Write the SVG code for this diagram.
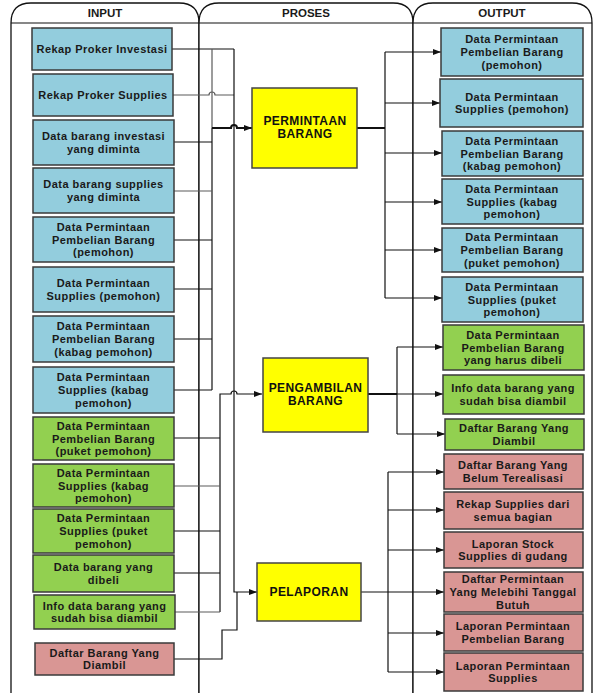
<svg xmlns="http://www.w3.org/2000/svg" width="599" height="693" viewBox="0 0 599 693">
<style>
.lane{fill:#fff;stroke:#111;stroke-width:1.3}
.hdr{fill:none;stroke:#111;stroke-width:1.2}
.ht{font-family:"Liberation Sans",Arial,sans-serif;font-weight:bold;font-size:11.5px;fill:#1a1a1a;text-anchor:middle}
.t{font-family:"Liberation Sans",Arial,sans-serif;font-weight:bold;font-size:11px;letter-spacing:0.45px;fill:#1a1a1a;text-anchor:middle}
.pt{font-family:"Liberation Sans",Arial,sans-serif;font-weight:bold;font-size:12px;letter-spacing:0.4px;fill:#111;text-anchor:middle}
.blue{fill:#93CDDD;stroke:#3a3a3a;stroke-width:1.5}
.green{fill:#92D050;stroke:#3a3a3a;stroke-width:1.5}
.pink{fill:#D99694;stroke:#3a3a3a;stroke-width:1.5}
.yel{fill:#FFFF00;stroke:#444;stroke-width:1.5}
.c{fill:none;stroke:#111;stroke-width:1.2}
.g{fill:none;stroke:#5a5a5a;stroke-width:1.2}
.b{fill:none;stroke:#111;stroke-width:2}
.a{fill:none;stroke:#111;stroke-width:1.2;marker-end:url(#ah)}
</style>
<defs>
<marker id="ah" markerWidth="8" markerHeight="6" refX="8" refY="3" orient="auto" markerUnits="userSpaceOnUse">
<path d="M0,0 L8,3 L0,6 Z" fill="#111"/>
</marker>
</defs>
<g id="lanes">
<g id="lane-input">
<path class="lane" d="M11,695 V23 Q11,3 31,3 H179 Q199,3 199,23 V695 Z"/>
<path class="hdr" d="M11,23 H199"/>
<text class="ht" x="105" y="17">INPUT</text>
</g>
<g id="lane-proses">
<path class="lane" d="M199,695 V23 Q199,3 219,3 H393 Q413,3 413,23 V695 Z"/>
<path class="hdr" d="M199,23 H413"/>
<text class="ht" x="306" y="17">PROSES</text>
</g>
<g id="lane-output">
<path class="lane" d="M413,695 V23 Q413,3 433,3 H572 Q592,3 592,23 V695 Z"/>
<path class="hdr" d="M413,23 H592"/>
<text class="ht" x="502" y="17">OUTPUT</text>
</g>
</g>
<g id="connectors">
<path class="c" d="M172,49 H234"/>
<path class="g" d="M212,49 V128"/>
<path class="c" d="M212,128 V390"/>
<path class="g" d="M173,95 H209 a3,3 0 0 1 6,0 H234"/>
<path class="c" d="M174,142 H212"/>
<path class="g" d="M174,191 H212"/>
<path class="c" d="M174,240 H212"/>
<path class="c" d="M174,289 H212"/>
<path class="c" d="M174,339 H212"/>
<path class="c" d="M174,390 H212"/>
<path class="b" d="M212,128 H231 a3,3 0 0 1 6,0 H244"/>
<path class="a" d="M243,128 H252" style="stroke-width:2"/>
<path class="c" d="M220,612 V394 H231 a3,3 0 0 1 6,0 H262" style="marker-end:url(#ah)"/>
<path class="c" d="M174,438 H220"/>
<path class="g" d="M174,486 H220"/>
<path class="c" d="M174,531 H220"/>
<path class="c" d="M174,573 H220"/>
<path class="g" d="M175,612 H220"/>
<path class="c" d="M234,49 V592 H257" style="marker-end:url(#ah)"/>
<path class="c" d="M174,659 H222 V630 H237 V592"/>
<path class="b" d="M357,128 H385"/>
<path class="c" d="M385,52 V298"/>
<path class="a" d="M385,52 H441"/>
<path class="a" d="M385,103 H440"/>
<path class="a" d="M385,153 H442"/>
<path class="a" d="M385,202 H442"/>
<path class="a" d="M385,250 H442"/>
<path class="a" d="M385,298 H442"/>
<path class="b" d="M368,394 H397"/>
<path class="c" d="M397,347 V434"/>
<path class="a" d="M397,347 H443"/>
<path class="a" d="M397,394 H443"/>
<path class="a" d="M397,434 H445"/>
<path class="a" d="M361,592 H444"/>
<path class="c" d="M388,472 V672"/>
<path class="a" d="M388,472 H444"/>
<path class="a" d="M388,510 H444"/>
<path class="a" d="M388,550 H444"/>
<path class="a" d="M388,633 H444"/>
<path class="a" d="M388,672 H444"/>
</g>
<g id="in1"><rect class="blue" x="32" y="28" width="140" height="42"/><text class="t" x="102" y="53">Rekap Proker Investasi</text></g>
<g id="in2"><rect class="blue" x="33" y="74" width="140" height="42"/><text class="t" x="103" y="99">Rekap Proker Supplies</text></g>
<g id="in3"><rect class="blue" x="33" y="120" width="141" height="45"/><text class="t" x="103.5" y="140.2">Data barang investasi</text><text class="t" x="103.5" y="152.8">yang diminta</text></g>
<g id="in4"><rect class="blue" x="33" y="168" width="141" height="45"/><text class="t" x="103.5" y="188.2">Data barang supplies</text><text class="t" x="103.5" y="200.8">yang diminta</text></g>
<g id="in5"><rect class="blue" x="33" y="217" width="141" height="45"/><text class="t" x="103.5" y="230.9">Data Permintaan</text><text class="t" x="103.5" y="243.5">Pembelian Barang</text><text class="t" x="103.5" y="256.1">(pemohon)</text></g>
<g id="in6"><rect class="blue" x="33" y="267" width="141" height="45"/><text class="t" x="103.5" y="287.2">Data Permintaan</text><text class="t" x="103.5" y="299.8">Supplies (pemohon)</text></g>
<g id="in7"><rect class="blue" x="33" y="316" width="141" height="46"/><text class="t" x="103.5" y="330.4">Data Permintaan</text><text class="t" x="103.5" y="343">Pembelian Barang</text><text class="t" x="103.5" y="355.6">(kabag pemohon)</text></g>
<g id="in8"><rect class="blue" x="33" y="367" width="141" height="46"/><text class="t" x="103.5" y="381.4">Data Permintaan</text><text class="t" x="103.5" y="394">Supplies (kabag</text><text class="t" x="103.5" y="406.6">pemohon)</text></g>
<g id="in9"><rect class="green" x="33" y="417" width="141" height="43"/><text class="t" x="103.5" y="429.9">Data Permintaan</text><text class="t" x="103.5" y="442.5">Pembelian Barang</text><text class="t" x="103.5" y="455.1">(puket pemohon)</text></g>
<g id="in10"><rect class="green" x="33" y="464" width="141" height="43"/><text class="t" x="103.5" y="476.9">Data Permintaan</text><text class="t" x="103.5" y="489.5">Supplies (kabag</text><text class="t" x="103.5" y="502.1">pemohon)</text></g>
<g id="in11"><rect class="green" x="33" y="509" width="141" height="44"/><text class="t" x="103.5" y="522.4">Data Permintaan</text><text class="t" x="103.5" y="535">Supplies (puket</text><text class="t" x="103.5" y="547.6">pemohon)</text></g>
<g id="in12"><rect class="green" x="33" y="555" width="141" height="37"/><text class="t" x="103.5" y="571.2">Data barang yang</text><text class="t" x="103.5" y="583.8">dibeli</text></g>
<g id="in13"><rect class="green" x="34" y="595" width="141" height="34"/><text class="t" x="104.5" y="609.7">Info data barang yang</text><text class="t" x="104.5" y="622.3">sudah bisa diambil</text></g>
<g id="in14"><rect class="pink" x="35" y="643" width="139" height="32"/><text class="t" x="104.5" y="656.7">Daftar Barang Yang</text><text class="t" x="104.5" y="669.3">Diambil</text></g>
<g id="p1"><rect class="yel" x="252" y="88" width="105" height="80"/><text class="pt" x="305" y="124.5">PERMINTAAN</text><text class="pt" x="305" y="138">BARANG</text></g>
<g id="p2"><rect class="yel" x="263" y="358" width="105" height="74"/><text class="pt" x="315.5" y="391.5">PENGAMBILAN</text><text class="pt" x="315.5" y="405">BARANG</text></g>
<g id="p3"><rect class="yel" x="257" y="563" width="104" height="58"/><text class="pt" x="309" y="596">PELAPORAN</text></g>
<g id="out1"><rect class="blue" x="441" y="28" width="142" height="48"/><text class="t" x="512" y="43.4">Data Permintaan</text><text class="t" x="512" y="56">Pembelian Barang</text><text class="t" x="512" y="68.6">(pemohon)</text></g>
<g id="out2"><rect class="blue" x="440" y="79" width="143" height="48"/><text class="t" x="512" y="100.7">Data Permintaan</text><text class="t" x="512" y="113.3">Supplies (pemohon)</text></g>
<g id="out3"><rect class="blue" x="442" y="131" width="141" height="45"/><text class="t" x="512" y="144.9">Data Permintaan</text><text class="t" x="512" y="157.5">Pembelian Barang</text><text class="t" x="512" y="170.1">(kabag pemohon)</text></g>
<g id="out4"><rect class="blue" x="442" y="179" width="141" height="45"/><text class="t" x="512" y="192.9">Data Permintaan</text><text class="t" x="512" y="205.5">Supplies (kabag</text><text class="t" x="512" y="218.1">pemohon)</text></g>
<g id="out5"><rect class="blue" x="442" y="228" width="141" height="44"/><text class="t" x="512" y="241.4">Data Permintaan</text><text class="t" x="512" y="254">Pembelian Barang</text><text class="t" x="512" y="266.6">(puket pemohon)</text></g>
<g id="out6"><rect class="blue" x="442" y="277" width="141" height="45"/><text class="t" x="512" y="290.9">Data Permintaan</text><text class="t" x="512" y="303.5">Supplies (puket</text><text class="t" x="512" y="316.1">pemohon)</text></g>
<g id="out7"><rect class="green" x="443" y="325" width="141" height="45"/><text class="t" x="513" y="338.9">Data Permintaan</text><text class="t" x="513" y="351.5">Pembelian Barang</text><text class="t" x="513" y="364.1">yang harus dibeli</text></g>
<g id="out8"><rect class="green" x="443" y="375" width="141" height="39"/><text class="t" x="513" y="392.2">Info data barang yang</text><text class="t" x="513" y="404.8">sudah bisa diambil</text></g>
<g id="out9"><rect class="green" x="445" y="419" width="139" height="31"/><text class="t" x="514" y="432.2">Daftar Barang Yang</text><text class="t" x="514" y="444.8">Diambil</text></g>
<g id="out10"><rect class="pink" x="444" y="454" width="139" height="35"/><text class="t" x="513" y="469.2">Daftar Barang Yang</text><text class="t" x="513" y="481.8">Belum Terealisasi</text></g>
<g id="out11"><rect class="pink" x="444" y="492" width="139" height="37"/><text class="t" x="513" y="508.2">Rekap Supplies dari</text><text class="t" x="513" y="520.8">semua bagian</text></g>
<g id="out12"><rect class="pink" x="444" y="532" width="139" height="36"/><text class="t" x="513" y="547.7">Laporan Stock</text><text class="t" x="513" y="560.3">Supplies di gudang</text></g>
<g id="out13"><rect class="pink" x="444" y="572" width="139" height="40"/><text class="t" x="513" y="583.4">Daftar Permintaan</text><text class="t" x="513" y="596">Yang Melebihi Tanggal</text><text class="t" x="513" y="608.6">Butuh</text></g>
<g id="out14"><rect class="pink" x="444" y="614" width="139" height="37"/><text class="t" x="513" y="630.2">Laporan Permintaan</text><text class="t" x="513" y="642.8">Pembelian Barang</text></g>
<g id="out15"><rect class="pink" x="444" y="653" width="139" height="38"/><text class="t" x="513" y="669.7">Laporan Permintaan</text><text class="t" x="513" y="682.3">Supplies</text></g>
</svg>
